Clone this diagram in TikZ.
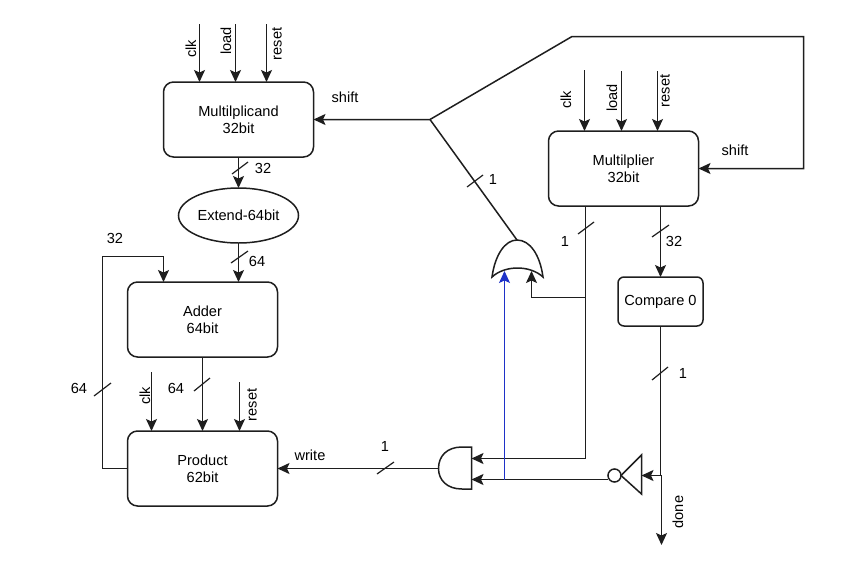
\documentclass[tikz,border=0pt]{standalone}
\usepackage{fontspec}
\setmainfont{Liberation Sans}
\usepackage{xcolor}
\usepackage{tikz}
\usetikzlibrary{arrows.meta,positioning,shapes.geometric}
\definecolor{wirecol}{RGB}{30,30,30}
\definecolor{bluewire}{RGB}{30,50,200}

\begin{document}
\begin{tikzpicture}[
		x=1pt,y=-1pt,
		>={Stealth[length=12pt,width=11pt,inset=2.5pt]},
		line width=1.5pt,
		every node/.style={font=\fontsize{14.6}{17}\selectfont},
		block/.style={rectangle,draw=wirecol,rounded corners=10pt,minimum width=150pt,minimum height=75pt,align=center,outer sep=0pt},
		wire/.style={draw=wirecol,->},
		plain/.style={draw=wirecol},
		slash/.style={draw=wirecol,line width=1.2pt},
		tag/.style={inner sep=0pt},
		sidetag/.style={inner sep=0pt,rotate=90}
	]
	\useasboundingbox (0,0) rectangle (851,568);

	\node[block] (mcand) at (238.5,119.5) {Multilplicand\\32bit};
	\node[ellipse,draw=wirecol,minimum width=120pt,minimum height=55pt,inner sep=0pt,outer sep=0pt,below=31pt of mcand] (extend) {Extend-64bit};
	\node[block] (adder) at (202.5,319.5) {Adder\\64bit};
	\node[block,below=74pt of adder] (product) {Product\\62bit};
	\node[block] (mplier) at (623.5,168.5) {Multilplier\\32bit};
	\node[block,minimum width=85pt,minimum height=49pt,rounded corners=6pt] (compare) at (660.5,301.5) {\raisebox{-1.5pt}{Compare 0}};
	\node[circle,draw=wirecol,minimum size=13pt,inner sep=0pt,outer sep=0pt] (bubble) at (614.5,475.5) {};

	% gates
	\draw[plain] (492,277) .. controls (495,255) and (505,240) .. (517,240) .. controls (530,240) and (540,255) .. (543,277) .. controls (530,265) and (505,265) .. (492,277) -- cycle;
	\draw[plain] (471.5,447) -- (462,447) .. controls (447,447) and (438.5,456) .. (438.5,468.5) .. controls (438.5,480) and (447,489) .. (462,489) -- (471.5,489) -- cycle;
	\draw[plain] (621,475.5) -- (641.5,455) -- (641.5,494) -- cycle;

	\coordinate (orout) at (517,240);
	\coordinate (orina) at (504.5,271);
	\coordinate (orinb) at (531.5,271);
	\coordinate (andout) at (438.5,468.5);
	\coordinate (andina) at (471.5,458.5);
	\coordinate (andinb) at (471.5,479.5);
	\coordinate (notin) at (641.5,475.5);
	\coordinate (shiftjoin) at (430,119.5);
	\coordinate (topbend) at (572,36.5);
	\coordinate (topright) at (803.5,36.5);
	\coordinate (tapdone) at (661.5,475.5);
	\coordinate (doneend) at (661.5,545);
	\coordinate (tapmul) at (585.5,297.5);
	\coordinate (tapand) at (504.5,479.5);
	\coordinate (fbleft) at (102.5,256.5);
	\coordinate (fbdown) at (163.5,256.5);

	% control inputs
	\coordinate (clka) at (199.5,24);
	\coordinate (loada) at (235.5,24);
	\coordinate (reseta) at (266.5,24);
	\coordinate (clkb) at (584.5,70);
	\coordinate (loadb) at (621.5,71);
	\coordinate (resetb) at (657.5,71);
	\coordinate (clkc) at (151.5,372);
	\coordinate (resetc) at (239.5,382);
	\draw[wire] (clka) -- (clka |- mcand.north);
	\draw[wire] (loada) -- (loada |- mcand.north);
	\draw[wire] (reseta) -- (reseta |- mcand.north);
	\draw[wire] (clkb) -- (clkb |- mplier.north);
	\draw[wire] (loadb) -- (loadb |- mplier.north);
	\draw[wire] (resetb) -- (resetb |- mplier.north);
	\draw[wire] (clkc) -- (clkc |- product.north);
	\draw[wire] (resetc) -- (resetc |- product.north);

	% data path
	\draw[wire] (mcand.south) -- (extend.north);
	\draw[wire] (extend.south) -- (extend.south |- adder.north);
	\draw[wire] (adder.south) -- (product.north);
	\draw[wire] (product.west) -- (fbleft |- product.west) -- (fbleft) -- (fbdown) -- (fbdown |- adder.north);
	\draw[wire] (andout) -- (product.east);
	\draw[wire] (compare.north |- mplier.south) -- (compare.north);
	\draw[plain] (compare.south) -- (compare.south |- tapdone);
	\draw[wire] (tapdone) -- (doneend);
	\draw[wire] (tapdone) -- (notin);
	\draw[wire] (bubble.west |- andinb) -- (andinb);
	\draw[wire] (tapmul |- mplier.south) -- (tapmul |- andina) -- (andina);
	\draw[wire] (tapmul) -- (orinb |- tapmul) -- (orinb);
	\draw[wire] (orout) -- (shiftjoin) -- (mcand.east);
	\draw[wire] (shiftjoin) -- (topbend) -- (topright) -- (topright |- mplier.east) -- (mplier.east);
	\draw[->,draw=bluewire,line width=1pt] (tapand) -- (orina);

	% bus marks
	\draw[slash] (232,174) -- (248,162);
	\draw[slash] (231,263) -- (248,251);
	\draw[slash] (94,396) -- (111,383);
	\draw[slash] (194,391) -- (210,378);
	\draw[slash] (377,474) -- (394,462);
	\draw[slash] (467,187) -- (483,175);
	\draw[slash] (578,234) -- (594,222);
	\draw[slash] (652,237) -- (669,225);
	\draw[slash] (652,380) -- (668,367);

	% labels
	\node[tag] (w32a) at (263,168) {32};
	\node[tag] (w64a) at (257,261) {64};
	\node[tag] (w32b) at (115,238) {32};
	\node[tag] (w64b) at (79,388) {64};
	\node[tag] (w64c) at (176,388) {64};
	\node[tag] (w1a) at (385,446) {1};
	\node[tag] (w1b) at (493,179) {1};
	\node[tag] (w1c) at (565,241) {1};
	\node[tag] (w32c) at (674,241) {32};
	\node[tag] (w1d) at (683,373) {1};
	\node[tag] (shifta) at (345,97) {shift};
	\node[tag] (shiftb) at (735,150) {shift};
	\node[tag] (writeb) at (310,455) {write};
	\node[sidetag] (donel) at (678,512) {done};
	\node[sidetag] (clkla) at (191,49) {clk};
	\node[sidetag] (loadla) at (226,41) {load};
	\node[sidetag] (resetla) at (277,44) {reset};
	\node[sidetag] (clklb) at (566,100) {clk};
	\node[sidetag] (loadlb) at (612,98) {load};
	\node[sidetag] (resetlb) at (665,91) {reset};
	\node[sidetag] (clklc) at (145,396) {clk};
	\node[sidetag] (resetlc) at (252,405) {reset};
\end{tikzpicture}
\end{document}
